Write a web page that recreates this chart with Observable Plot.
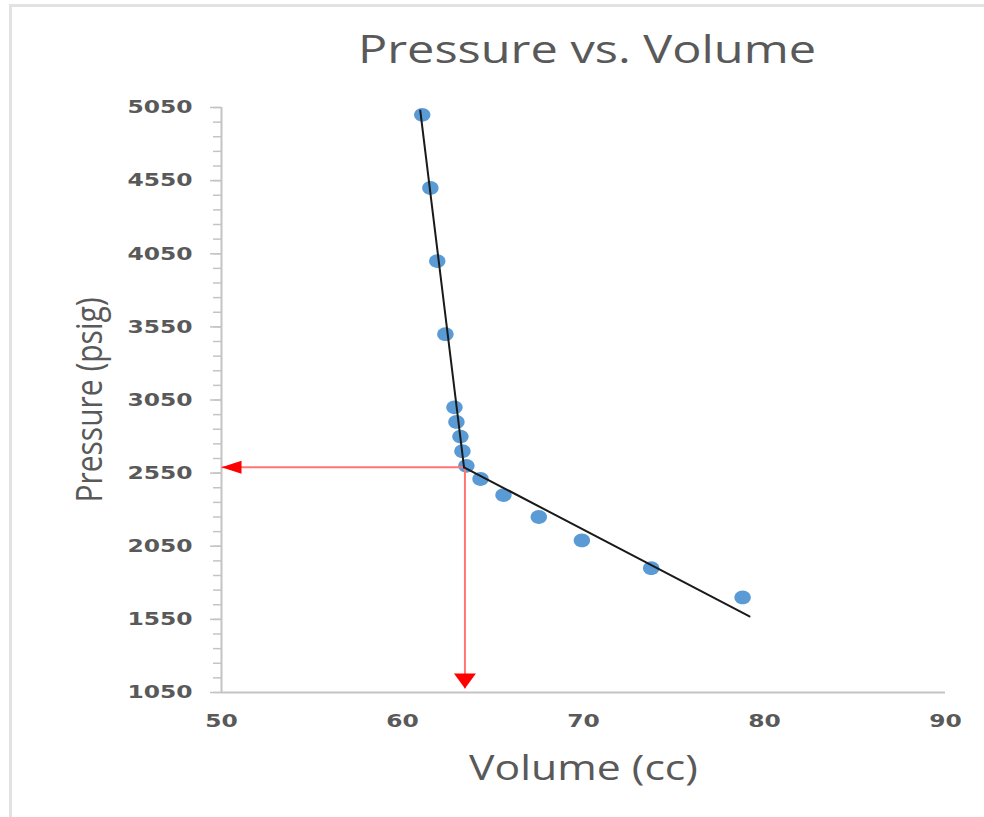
<!DOCTYPE html>
<html>
<head>
<meta charset="utf-8">
<script src="https://cdn.jsdelivr.net/npm/d3@7"></script>
<script src="https://cdn.jsdelivr.net/npm/@observablehq/plot@0.6"></script>
<style>
  body { margin: 0; background: #fff; }
  #wrap { position: relative; width: 984px; height: 817px; overflow: hidden; background: #fff; }
  #frame { position: absolute; left: 9px; top: 4px; width: 1100px; height: 900px;
           border-left: 3px solid #e2e2e2; border-top: 3px solid #e2e2e2; pointer-events: none; }
  #header { position: relative; height: 90px; }
  #title { position: absolute; left: 337px; width: 500px; top: 22px; text-align: center;
           font-family: "Open Sans", sans-serif; font-size: 38px; line-height: 52px; color: #595959;
           white-space: nowrap; transform: scaleX(1.28); transform-origin: 50% 50%; }
  #chart { position: relative; }
</style>
</head>
<body>
<div id="wrap">
  <div id="frame"></div>
  <div id="header"><div id="title">Pressure vs. Volume</div></div>
  <div id="chart"></div>
</div>
<script>
// Measured points
const volume   = [61.09, 61.54, 61.92, 62.37, 62.87, 62.98, 63.20, 63.31, 63.53, 64.31, 65.58, 67.53, 69.91, 73.74, 78.79];
const pressure = [5000, 4500, 4000, 3500, 3000, 2900, 2800, 2700, 2600, 2510, 2400, 2250, 2090, 1900, 1700];

// Two linear trend lines (end points)
const trendHighVolume   = [60.98, 63.40];
const trendHighPressure = [5030, 2590];
const trendLowVolume    = [63.40, 79.17];
const trendLowPressure  = [2590, 1570];

// Intersection guide (red arrows)
const guideVolume = 63.45;
const guidePressure = 2590;
const guideArrowVolumeEnd = 50;
const guideArrowPressureEnd = 1078;

// Axes
const xTicks = [50, 60, 70, 80, 90];
const yTicks = [1050, 1550, 2050, 2550, 3050, 3550, 4050, 4550, 5050];
const yMinorTicks = d3.range(1050, 5051, 100);
const xTitle = "Volume (cc)";
const yTitle = "Pressure (psig)";

const points = volume.map((v, i) => ({v, p: pressure[i]}));
const trends = [
  ...trendHighVolume.map((v, i) => ({v, p: trendHighPressure[i], s: "high"})),
  ...trendLowVolume.map((v, i) => ({v, p: trendLowPressure[i], s: "low"}))
];
const guides = [
  {x1: guideVolume, y1: guidePressure, x2: guideArrowVolumeEnd, y2: guidePressure},
  {x1: guideVolume, y1: guidePressure, x2: guideVolume, y2: guideArrowPressureEnd}
];

const headLeft = { draw(ctx) { ctx.moveTo(0, 0); ctx.lineTo(20, -6.5); ctx.lineTo(20, 6.5); ctx.closePath(); } };
const headDown = { draw(ctx) { ctx.moveTo(0, 0); ctx.lineTo(-11, -15); ctx.lineTo(11, -15); ctx.closePath(); } };
const ellipse = { draw(ctx) {
  const rx = 8.2, ry = 6.9, k = 0.5523;
  ctx.moveTo(rx, 0);
  ctx.bezierCurveTo(rx, k * ry, k * rx, ry, 0, ry);
  ctx.bezierCurveTo(-k * rx, ry, -rx, k * ry, -rx, 0);
  ctx.bezierCurveTo(-rx, -k * ry, -k * rx, -ry, 0, -ry);
  ctx.bezierCurveTo(k * rx, -ry, rx, -k * ry, rx, 0);
  ctx.closePath();
} };

const axisGray = "#c4c4c4";
const textGray = "#595959";

const plot = Plot.plot({
  width: 984,
  height: 727,
  marginLeft: 221,
  marginRight: 39,
  marginTop: 17,
  marginBottom: 125,
  x: {domain: [50, 90], label: null},
  y: {domain: [1050, 5050], label: null},
  style: {background: "transparent", overflow: "visible"},
  marks: [
    Plot.axisY({ticks: yMinorTicks, tickSize: 8, text: null, label: null, stroke: axisGray, strokeWidth: 1.5}),
    Plot.axisY({ticks: yTicks, tickSize: 11, tickPadding: 18, label: null, tickFormat: d => String(d),
      stroke: axisGray, strokeWidth: 1.5, fill: textGray, fontSize: 18, fontWeight: "bold", fontFamily: "DejaVu Sans"}),
    Plot.axisX({ticks: xTicks, tickSize: 0, tickPadding: 22, label: null, tickFormat: d => String(d),
      fill: textGray, fontSize: 18, fontWeight: "bold", fontFamily: "DejaVu Sans"}),
    Plot.ruleX([50], {stroke: axisGray, strokeWidth: 2}),
    Plot.ruleY([1050], {x1: 50, x2: 90, stroke: axisGray, strokeWidth: 2}),
    Plot.dot(points, {x: "v", y: "p", symbol: ellipse, r: 1, fill: "#5b9bd5", stroke: "none"}),
    Plot.link(guides, {x1: "x1", y1: "y1", x2: "x2", y2: "y2", stroke: "#ff7575", strokeWidth: 2}),
    Plot.dot([{x: guideArrowVolumeEnd, y: guidePressure}], {x: "x", y: "y", symbol: headLeft, r: 1, fill: "#ff0000", stroke: "none"}),
    Plot.dot([{x: guideVolume, y: guideArrowPressureEnd}], {x: "x", y: "y", symbol: headDown, r: 1, fill: "#ff0000", stroke: "none"}),
    Plot.line(trends, {x: "v", y: "p", z: "s", stroke: "#1a1a1a", strokeWidth: 2}),
    Plot.text([yTitle], {frameAnchor: "left", rotate: -90, dx: -131, textAnchor: "middle", lineAnchor: "middle",
      fontSize: 30, fill: textGray, fontFamily: "Open Sans", className: "ytitle"}),
    Plot.text([xTitle], {frameAnchor: "bottom", dy: 76, textAnchor: "middle", lineAnchor: "middle",
      fontSize: 35, fill: textGray, fontFamily: "Open Sans", className: "xtitle"})
  ]
});

document.getElementById("chart").appendChild(plot);

// Horizontal glyph stretch (the reference's text is widened)
function stretch(nodes, sx) {
  nodes.forEach(t => {
    const T = t.getAttribute("transform") || "";
    const m = /translate\(\s*([-\d.e]+)[ ,]+([-\d.e]+)\s*\)/.exec(T);
    const a = (m ? +m[1] : 0) + (+t.getAttribute("x") || 0);
    const b = (m ? +m[2] : 0) + (+t.getAttribute("y") || 0);
    t.setAttribute("transform", `translate(${a},${b}) scale(${sx},1) translate(${-a},${-b}) ${T}`);
  });
}
stretch(plot.querySelectorAll('g[aria-label="y-axis tick label"] text, g[aria-label="x-axis tick label"] text'), 1.3);
stretch(plot.querySelectorAll('g.xtitle text, g.ytitle text'), 1.22);
</script>
</body>
</html>
